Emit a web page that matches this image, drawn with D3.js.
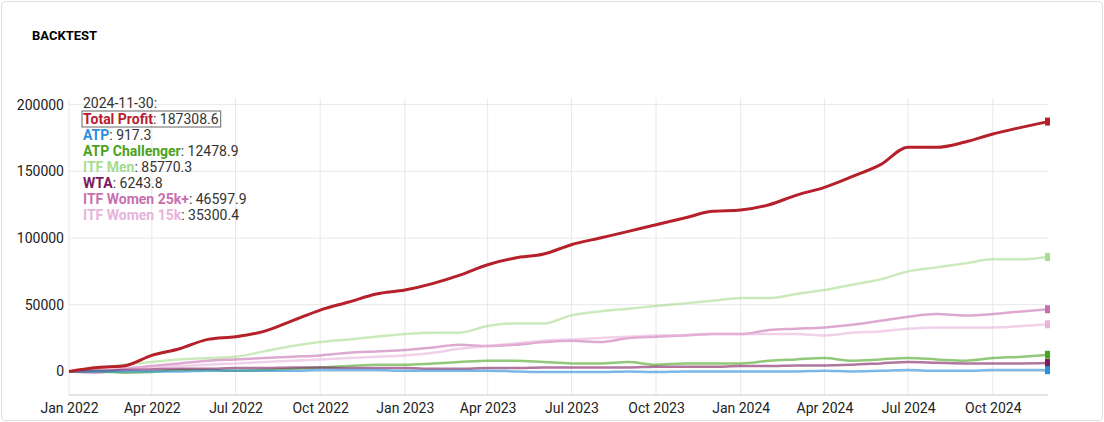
<!DOCTYPE html>
<html><head><meta charset="utf-8">
<script src="https://cdn.jsdelivr.net/npm/d3@7"></script>
<style>
body{margin:0;background:#fff;font-family:"Liberation Sans Narrow","Roboto",sans-serif;}
#card{position:absolute;left:1px;top:1px;width:1100px;height:418px;border:1px solid #ddd;border-radius:4px;}
</style></head><body><div id="card"></div><svg id="c" width="1104" height="422" style="position:absolute;left:0;top:0"></svg>
<script>
const months = ["2022-01-01","2022-02-01","2022-03-01","2022-04-01","2022-05-01","2022-06-01","2022-07-01","2022-08-01","2022-09-01","2022-10-01","2022-11-01","2022-12-01","2023-01-01","2023-02-01","2023-03-01","2023-04-01","2023-05-01","2023-06-01","2023-07-01","2023-08-01","2023-09-01","2023-10-01","2023-11-01","2023-12-01","2024-01-01","2024-02-01","2024-03-01","2024-04-01","2024-05-01","2024-06-01","2024-07-01","2024-08-01","2024-09-01","2024-10-01","2024-11-01","2024-11-30"];
const totalProfit = [0,3000,4000,12000,17000,24000,26000,30000,38000,46000,52000,58000,61000,66000,72000,80000,85000,88000,95000,100000,105000,110000,115000,120000,121000,125000,132000,138000,146000,155000,168000,168000,172000,178000,183000,187308.6];
const atp = [0,0,0,0,0,500,500,500,500,1000,1000,1000,500,500,500,500,0,-500,-500,-500,0,-500,0,0,0,0,0,500,0,500,1000,500,500,1000,1000,917.3];
const atpChallenger = [0,0,-1000,-500,1000,1000,500,1000,2000,3000,4000,5000,5000,6000,7000,8000,8000,7000,6000,6000,7000,5000,6000,6000,6000,8000,9000,10000,8000,9000,10000,9000,8000,10000,11000,12478.9];
const itfMen = [0,2000,5000,7000,9000,10000,11000,15000,19000,22000,24000,26000,28000,29000,29000,34000,36000,36000,42000,45000,47000,49000,51000,53000,55000,55000,58000,61000,65000,69000,75000,78000,81000,84000,84000,85770.3];
const wta = [0,500,1000,1500,2000,2000,2500,2500,3000,3000,2500,2500,2500,2000,2000,2500,2500,3000,3000,3000,3000,3500,3500,3500,4000,4000,4500,4500,5000,6000,7000,6500,6000,6000,6000,6243.8];
const itfW25 = [0,-1000,2000,4000,6000,8000,9000,10000,11000,12000,14000,15000,16000,18000,20000,19000,20000,22000,23000,22000,25000,26000,27000,28000,28000,31000,32000,33000,35000,38000,41000,43000,42000,43000,45000,46597.9];
const itfW15 = [0,1000,2000,3000,4000,5000,6000,7000,8000,9000,10000,11000,12000,14000,17000,19000,21000,23000,24000,25000,26000,27000,27000,28000,28000,28000,28000,27000,29000,30000,32000,33000,33000,33000,34000,35300.4];
const seriesNames = ["Total Profit","ATP","ATP Challenger","ITF Men","WTA","ITF Women 25k+","ITF Women 15k"];
const seriesColors = ["#b5202a","#2a8fdd","#4aa320","#a8dc8e","#7b1a5e","#c86fb0","#e8b3dc"];
const seriesData = [totalProfit,atp,atpChallenger,itfMen,wta,itfW25,itfW15];
const yTicks = [0,50000,100000,150000,200000];
const xTicks = ["2022-01-01","2022-04-01","2022-07-01","2022-10-01","2023-01-01","2023-04-01","2023-07-01","2023-10-01","2024-01-01","2024-04-01","2024-07-01","2024-10-01"];

const p = d3.timeParse("%Y-%m-%d");
const dates = months.map(p);
const svg = d3.select("#c");
const x = d3.scaleTime().domain([dates[0], dates[dates.length-1]]).range([69,1048]);
const y = d3.scaleLinear().domain([-17700,205000]).range([395,98]);
svg.append("text").attr("x",32).attr("y",40).text("BACKTEST").attr("font-family","Roboto").attr("font-weight","bold").attr("font-size",13);
const g = svg.append("g");
g.selectAll(".gy").data(yTicks).join("line").attr("x1",69).attr("x2",1048).attr("y1",d=>y(d)).attr("y2",d=>y(d)).attr("stroke","#e8e8e8");
g.selectAll(".gx").data(xTicks.map(p)).join("line").attr("y1",98).attr("y2",395).attr("x1",d=>x(d)).attr("x2",d=>x(d)).attr("stroke","#e8e8e8");
g.append("line").attr("x1",69).attr("x2",1048).attr("y1",395).attr("y2",395).attr("stroke","#ccc");
const ya = svg.append("g").attr("transform","translate(69,0)").call(d3.axisLeft(y).tickValues(yTicks).tickSize(0).tickPadding(5).tickFormat(d3.format("d")));
ya.select(".domain").remove();
const xa = svg.append("g").attr("transform","translate(0,395)").call(d3.axisBottom(x).tickValues(xTicks.map(p)).tickSize(0).tickPadding(8).tickFormat(d3.timeFormat("%b %Y")));
xa.select(".domain").remove();
svg.selectAll(".tick text").attr("font-size",14).attr("fill","#222").attr("font-family","'Liberation Sans Narrow',Roboto");
const line = d3.line().x((d,i)=>x(dates[i])).y(d=>y(d)).curve(d3.curveMonotoneX);
const order=[3,5,6,2,4,1,0];
order.forEach(k=>{
  svg.append("path").attr("d",line(seriesData[k])).attr("fill","none").attr("stroke",seriesColors[k]).attr("stroke-opacity",k==0?1:0.6).attr("stroke-width",k==0?3:2.5);
  const v=seriesData[k][seriesData[k].length-1];
  svg.append("rect").attr("x",x(dates[dates.length-1])-3).attr("y",y(v)-4).attr("width",5).attr("height",8).attr("fill",seriesColors[k]);
});
const lg = svg.append("g").attr("font-size",14).attr("font-family","'Liberation Sans Narrow',Roboto");
lg.append("text").attr("x",83).attr("y",108).attr("fill","#333").text("2024-11-30:");
seriesNames.forEach((n,i)=>{
  const t=lg.append("text").attr("x",83).attr("y",124+i*16);
  t.append("tspan").attr("fill",seriesColors[i]).attr("font-weight","bold").text(n);
  t.append("tspan").attr("fill","#333").text(": "+seriesData[i][seriesData[i].length-1].toFixed(1));
  if(i==0){const b=t.node().getBBox();lg.append("rect").attr("x",b.x-1).attr("y",b.y).attr("width",b.width+3).attr("height",b.height).attr("fill","none").attr("stroke","#666");}
});
</script></body></html>
